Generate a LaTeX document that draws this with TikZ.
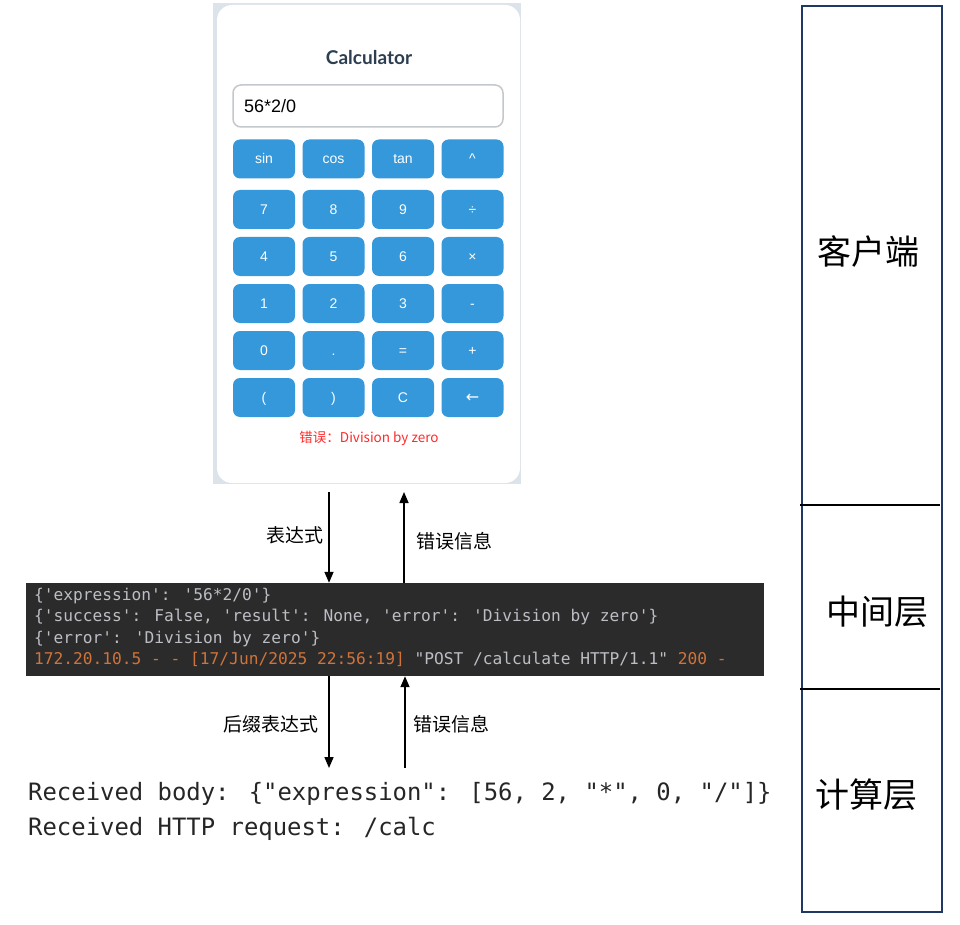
\documentclass[tikz,border=0pt]{standalone}
\usepackage{fontspec}
\usetikzlibrary{arrows.meta}
\newfontfamily\cjk{Noto Sans CJK SC}
\newfontfamily\arialf{Liberation Sans}
\newfontfamily\latof{Lato}
\newfontfamily\monof{DejaVu Sans Mono}
\newfontfamily\dejaf{DejaVu Sans}
\definecolor{btnblue}{HTML}{3498DB}
\definecolor{frameg}{HTML}{DCE3EA}
\definecolor{titlec}{HTML}{2C3E50}
\definecolor{inputb}{HTML}{C4C8CC}
\definecolor{termbg}{HTML}{2B2B2B}
\definecolor{termtx}{HTML}{BCBEC4}
\definecolor{termor}{HTML}{D0733A}
\definecolor{errred}{HTML}{FF2A2A}
\definecolor{panelc}{HTML}{1F3864}
\definecolor{recvc}{HTML}{262626}
\tikzset{
  btn/.style={fill=btnblue, rounded corners=7pt, minimum width=62pt, minimum height=39pt,
    inner sep=0pt, text=white, text height=10pt, text depth=0pt, font=\arialf\fontsize{14}{16}\selectfont},
  flow/.style={line width=1.5pt, -{Triangle[width=9pt,length=11pt]}},
  arrlabel/.style={font=\cjk\fontsize{19}{22}\selectfont, inner sep=0pt},
  termline/.style={anchor=base west, inner sep=0pt, text=termtx, font=\monof\fontsize{16.2}{18}\selectfont},
  recvline/.style={anchor=base west, inner sep=0pt, text=recvc, font=\monof\fontsize{23.9}{28}\selectfont},
  layerlabel/.style={font=\cjk\fontsize{34}{38}\selectfont, inner sep=0pt}
}
\begin{document}
\begin{tikzpicture}[x=1pt,y=-1pt]
\useasboundingbox (0,0) rectangle (960,925);
% calculator screenshot
\fill[frameg] (213,3) rectangle (521,484);
\node[fill=white, rounded corners=15pt, minimum width=303pt, minimum height=478pt, inner sep=0pt] (calc) at (368.5,244) {};
\node[text=titlec, font=\latof\bfseries\fontsize{19}{22}\selectfont] (title) at (369,58) {Calculator};
\node[draw=inputb, line width=1.5pt, fill=white, rounded corners=8pt, minimum width=270pt, minimum height=42pt, inner sep=0pt] (input) at (368,106) {};
\node[anchor=west, inner sep=0pt, font=\arialf\fontsize{18}{21}\selectfont] (inputtxt) at (244,106) {56*2/0};
% buttons
\node[btn] (bsin) at (264,159) {sin};
\node[btn] (bcos) at (333.5,159) {cos};
\node[btn] (btan) at (403,159) {tan};
\node[btn] (bpow) at (472.5,159) {\textasciicircum};
\node[btn] (b7) at (264,209.5) {7};
\node[btn] (b8) at (333.5,209.5) {8};
\node[btn] (b9) at (403,209.5) {9};
\node[btn] (bdiv) at (472.5,209.5) {÷};
\node[btn] (b4) at (264,256.5) {4};
\node[btn] (b5) at (333.5,256.5) {5};
\node[btn] (b6) at (403,256.5) {6};
\node[btn] (bmul) at (472.5,256.5) {×};
\node[btn] (b1) at (264,303.5) {1};
\node[btn] (b2) at (333.5,303.5) {2};
\node[btn] (b3) at (403,303.5) {3};
\node[btn] (bsub) at (472.5,303.5) {-};
\node[btn] (b0) at (264,350.5) {0};
\node[btn] (bdot) at (333.5,350.5) {.};
\node[btn] (beq) at (403,350.5) {=};
\node[btn] (badd) at (472.5,350.5) {+};
\node[btn] (blp) at (264,397.5) {(};
\node[btn] (brp) at (333.5,397.5) {)};
\node[btn] (bc) at (403,397.5) {C};
\node[btn, font=\dejaf\fontsize{16}{18}\selectfont] (bback) at (472.5,397.5) {←};
\node[text=errred, font=\cjk\fontsize{13.5}{16}\selectfont] (err) at (369,438) {错误：Division by zero};
% terminal
\node[fill=termbg, minimum width=738pt, minimum height=93pt, inner sep=0pt] (term) at (395,629.5) {};
\node[termline] (t1) at (34,600) {\{'expression': '56*2/0'\}};
\node[termline] (t2) at (34,621.5) {\{'success': False, 'result': None, 'error': 'Division by zero'\}};
\node[termline] (t3) at (34,643) {\{'error': 'Division by zero'\}};
\node[termline] (t4) at (34,664.5) {\textcolor{termor}{172.20.10.5 - - [17/Jun/2025 22:56:19]} "POST /calculate HTTP/1.1" \textcolor{termor}{200 -}};
% received text
\node[recvline] (r1) at (28,800) {Received body: \{"expression": [56, 2, "*", 0, "/"]\}};
\node[recvline] (r2) at (28,835) {Received HTTP request: /calc};
% arrows
\coordinate (a1s) at (329,492);
\coordinate (a2s) at (404,583);
\coordinate (a2e) at (404,492);
\coordinate (a3e) at (329,768);
\coordinate (a4s) at (405,768);
\draw[flow] (a1s) -- (a1s |- term.north);
\draw[flow] (a2s |- term.north) -- (a2e);
\draw[flow] (a1s |- term.south) -- (a3e);
\draw[flow] (a4s) -- (a4s |- term.south);
\node[arrlabel, anchor=east] (l1) at (324,535) {表达式};
\node[arrlabel, anchor=west] (l2) at (416,541) {错误信息};
\node[arrlabel, anchor=east] (l3) at (319,724) {后缀表达式};
\node[arrlabel, anchor=west] (l4) at (413,724) {错误信息};
% right panel
\draw[panelc, line width=2pt] (802,6) rectangle (942,912);
\draw[line width=1.5pt] (800,505) -- (940,505);
\draw[line width=1.5pt] (800,689) -- (940,689);
\node[layerlabel] (p1) at (868,252) {客户端};
\node[layerlabel] (p2) at (877,612) {中间层};
\node[layerlabel] (p3) at (866,795) {计算层};
\end{tikzpicture}
\end{document}
